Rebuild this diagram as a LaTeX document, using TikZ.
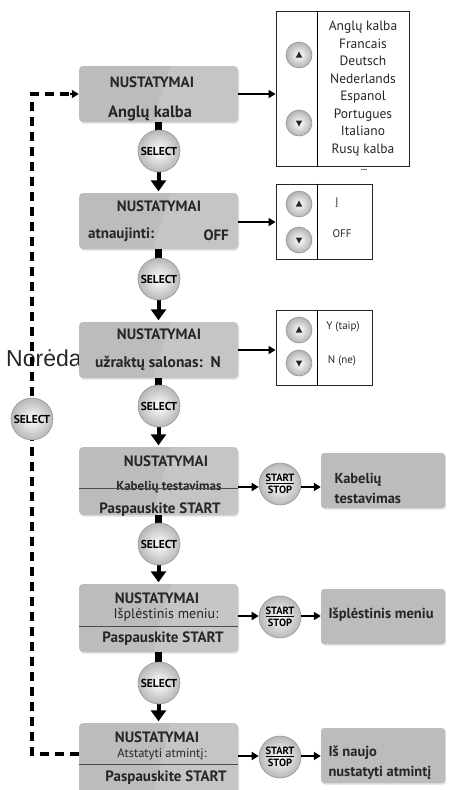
\documentclass[tikz,border=0pt]{standalone}
\usepackage{fontspec}
\setmainfont{PT Sans}
\newfontfamily\norfont{Liberation Sans}
\usetikzlibrary{arrows.meta,shadows,calc}
\definecolor{boxgray}{RGB}{188,188,188}
\definecolor{btnedge}{RGB}{150,150,150}
\tikzset{
  menubox/.style={fill=boxgray, rounded corners=4pt, minimum width=159pt, inner sep=0pt,
    drop shadow={opacity=.25, shadow xshift=1pt, shadow yshift=-1.5pt},
    path picture={\fill[white, opacity=.14]
      ([xshift=12pt]path picture bounding box.north) -- (path picture bounding box.north east)
      -- (path picture bounding box.south east) -- ([xshift=-6pt]path picture bounding box.south) -- cycle;}},
  resultbox/.style={fill=boxgray, rounded corners=3pt, minimum width=124pt, minimum height=55pt, inner sep=0pt,
    drop shadow={opacity=.25, shadow xshift=1pt, shadow yshift=-1.5pt}},
  listbox/.style={draw=black!85, line width=.8pt, inner sep=0pt},
  selbtn/.style={circle, draw=btnedge, line width=.6pt, inner color=white, outer color=black!28,
    minimum size=42pt, inner sep=0pt, font=\bfseries\fontsize{11.5}{11.5}\selectfont},
  ssbtn/.style={selbtn, font=\bfseries\fontsize{10.5}{11.5}\selectfont, align=center},
  arrbtn/.style={circle, draw=btnedge, line width=.6pt, inner color=white, outer color=black!30,
    minimum size=26pt, inner sep=0pt},
  mtitle/.style={font=\bfseries\fontsize{15}{16}\selectfont, text=black!85},
  mtext/.style={font=\bfseries\fontsize{15}{16}\selectfont, text=black!85},
  msmall/.style={font=\fontsize{12.5}{14}\selectfont, text=black!85},
  ltext/.style={font=\fontsize{13.5}{17.5}\selectfont, align=center, text=black!85},
  lsmall/.style={font=\fontsize{11}{13}\selectfont, text=black!85},
  rtext/.style={font=\bfseries\fontsize{14.5}{20}\selectfont, align=left, anchor=west, text=black!85},
  stub/.style={line width=7pt},
  flowarrow/.style={line width=4pt, -{Triangle[width=15pt,length=11pt]}, shorten >=1.5pt},
  linkarrow/.style={line width=2.2pt, -{Triangle[width=8pt,length=7pt]}},
  loopline/.style={line width=3.5pt, dash pattern=on 9pt off 6pt},
  divider/.style={line width=.8pt, black!70}
}
\begin{document}
\begin{tikzpicture}[x=1pt,y=-1pt]
  \useasboundingbox (0,0) rectangle (459,790);
  % stray label behind the loop
  \node[anchor=base west, inner sep=0pt, font=\norfont\fontsize{23}{24}\selectfont, text=black!85]
    (nor) at (6,366) {Norėda};
  % dashed way back to the top
  \coordinate (lx) at (32,0);
  \node[menubox, minimum height=56pt] (m1) at (158.5,94) {};
  \node[menubox, minimum height=56pt] (m2) at (158.5,221) {};
  \node[menubox, minimum height=56pt] (m3) at (158.5,350) {};
  \node[menubox, minimum height=68pt] (m4) at (158.5,481) {};
  \node[menubox, minimum height=68pt] (m5) at (158.5,618) {};
  \node[menubox, minimum height=74pt] (m6) at (158.5,760) {};
  \draw[loopline] (m6.west |- 0,754) -- (lx |- 0,754) -- (lx |- m1.west) -- ([xshift=-8pt]m1.west);
  \draw[linkarrow] ([xshift=-9pt]m1.west) -- (m1.west);

  % texts of the menu screens
  \node[mtitle] at (152,82) {NUSTATYMAI};
  \node[mtext, font=\bfseries\fontsize{16.5}{18}\selectfont] at (150,113) {Anglų kalba};
  \node[mtitle] at (159,206) {NUSTATYMAI};
  \node[mtext, anchor=west, inner sep=0pt] at (88,235) {atnaujinti:};
  \node[mtext, anchor=east, inner sep=0pt] at (229,235) {OFF};
  \node[mtitle] at (159,334) {NUSTATYMAI};
  \node[mtext, font=\bfseries\fontsize{15.5}{18}\selectfont] at (158,363) {užraktų salonas:\ \ N};
  \node[mtitle] at (166,461) {NUSTATYMAI};
  \node[mtext, font=\bfseries\fontsize{13}{14}\selectfont] at (169,487) {Kabelių testavimas};
  \draw[divider] (m4.west |- 0,488) -- (m4.east |- 0,488);
  \node[mtext] at (160,510) {Paspauskite START};
  \node[mtitle] at (157,598) {NUSTATYMAI};
  \node[msmall, font=\fontsize{14}{16}\selectfont] at (166,615) {Išplėstinis meniu:};
  \draw[divider] (m5.west |- 0,626) -- (m5.east |- 0,626);
  \node[mtext] at (163,639) {Paspauskite START};
  \node[mtitle] at (157,737) {NUSTATYMAI};
  \node[msmall] at (162,754) {Atstatyti atmintį:};
  \draw[divider] (m6.west |- 0,764) -- (m6.east |- 0,764);
  \node[mtext] at (166,778) {Paspauskite START};

  % choice lists
  \node[listbox, minimum width=133pt, minimum height=155pt] (l1) at (342.5,88.5) {};
  \node[listbox, minimum width=96pt, minimum height=75pt] (l2) at (324,221.5) {};
  \node[listbox, minimum width=96pt, minimum height=75pt] (l3) at (324,347.5) {};
  \foreach \l in {l1,l2,l3}
    \draw[line width=.8pt] ([xshift=42pt]\l.north west) -- ([xshift=42pt]\l.south west);
  \node[ltext] at (363,88.5) {Anglų kalba\\Francais\\Deutsch\\Nederlands\\Espanol\\Portugues\\Italiano\\Rusų kalba};
  \node[font=\bfseries\fontsize{8}{8}\selectfont, inner sep=0pt] at (364,170) {...};
  \node[lsmall] at (337,203) {Į};
  \node[lsmall] at (342,234) {OFF};
  \node[lsmall] at (343,327) {Y (taip)};
  \node[lsmall] at (342,361) {N (ne)};
  \node[arrbtn] (u1) at (299,55) {};
  \node[arrbtn] (d1) at (299,123) {};
  \node[arrbtn] (u2) at (299,204) {};
  \node[arrbtn] (d2) at (299,240) {};
  \node[arrbtn] (u3) at (299,330) {};
  \node[arrbtn] (d3) at (299,363) {};
  \foreach \b/\s in {u1/1,d1/-1,u2/1,d2/-1,u3/1,d3/-1}
    \fill[black!85] ($(\b)+(0,-3.5*\s)$) -- ($(\b)+(3.2,2.5*\s)$) -- ($(\b)+(-3.2,2.5*\s)$) -- cycle;
  \draw[linkarrow] (m1.east) -- (m1.east -| l1.west);
  \draw[linkarrow] (m2.east |- 0,222) -- (l2.west |- 0,222);
  \draw[linkarrow] (m3.east) -- (m3.east -| l3.west);

  % SELECT steps down the menu
  \draw[stub] (m1.south) -- ++(0,10);
  \draw[flowarrow] (m1.south) -- (m2.north);
  \draw[stub] (m2.south) -- ++(0,10);
  \draw[flowarrow] (m2.south) -- (m3.north);
  \draw[stub] (m3.south) -- ++(0,10);
  \draw[flowarrow] (m3.south) -- (m4.north);
  \draw[stub] (m4.south) -- ++(0,10);
  \draw[flowarrow] (m4.south) -- (m5.north);
  \draw[stub] (m5.south) -- ++(0,10);
  \draw[flowarrow] (m5.south) -- (m6.north);
  \node[selbtn] (s1) at (159,151) {SELECT};
  \node[selbtn] (s2) at (159,279) {SELECT};
  \node[selbtn] (s3) at (159,406) {SELECT};
  \node[selbtn] (s4) at (159,544) {SELECT};
  \node[selbtn] (s5) at (159,683) {SELECT};
  \node[selbtn] (s0) at (lx |- 0,419) {SELECT};

  % START/STOP actions
  \node[ssbtn] (ss1) at (280,484) {\underline{START}\\STOP};
  \node[ssbtn] (ss2) at (280,617) {\underline{START}\\STOP};
  \node[ssbtn] (ss3) at (280,757) {\underline{START}\\STOP};
  \node[resultbox] (r1) at (383,480.5) {};
  \node[resultbox] (r2) at (383,616.5) {};
  \node[resultbox] (r3) at (383,755.5) {};
  \node[rtext] at (331,488) {Kabelių\\testavimas};
  \node[rtext] at (325,615) {Išplėstinis meniu};
  \node[rtext] at (325,763) {Iš naujo\\nustatyti atmintį};
  \draw[linkarrow] (m4.east |- 0,487) -- (ss1.west |- 0,487);
  \draw[linkarrow] (m5.east |- 0,616) -- (ss2.west |- 0,616);
  \draw[linkarrow] (m6.east |- 0,756) -- (ss3.west |- 0,756);
  \draw[linkarrow] (ss1.east |- 0,487) -- (r1.west |- 0,487);
  \draw[linkarrow] (ss2.east |- 0,616) -- (r2.west |- 0,616);
  \draw[linkarrow] (ss3.east |- 0,756) -- (r3.west |- 0,756);
\end{tikzpicture}
\end{document}
